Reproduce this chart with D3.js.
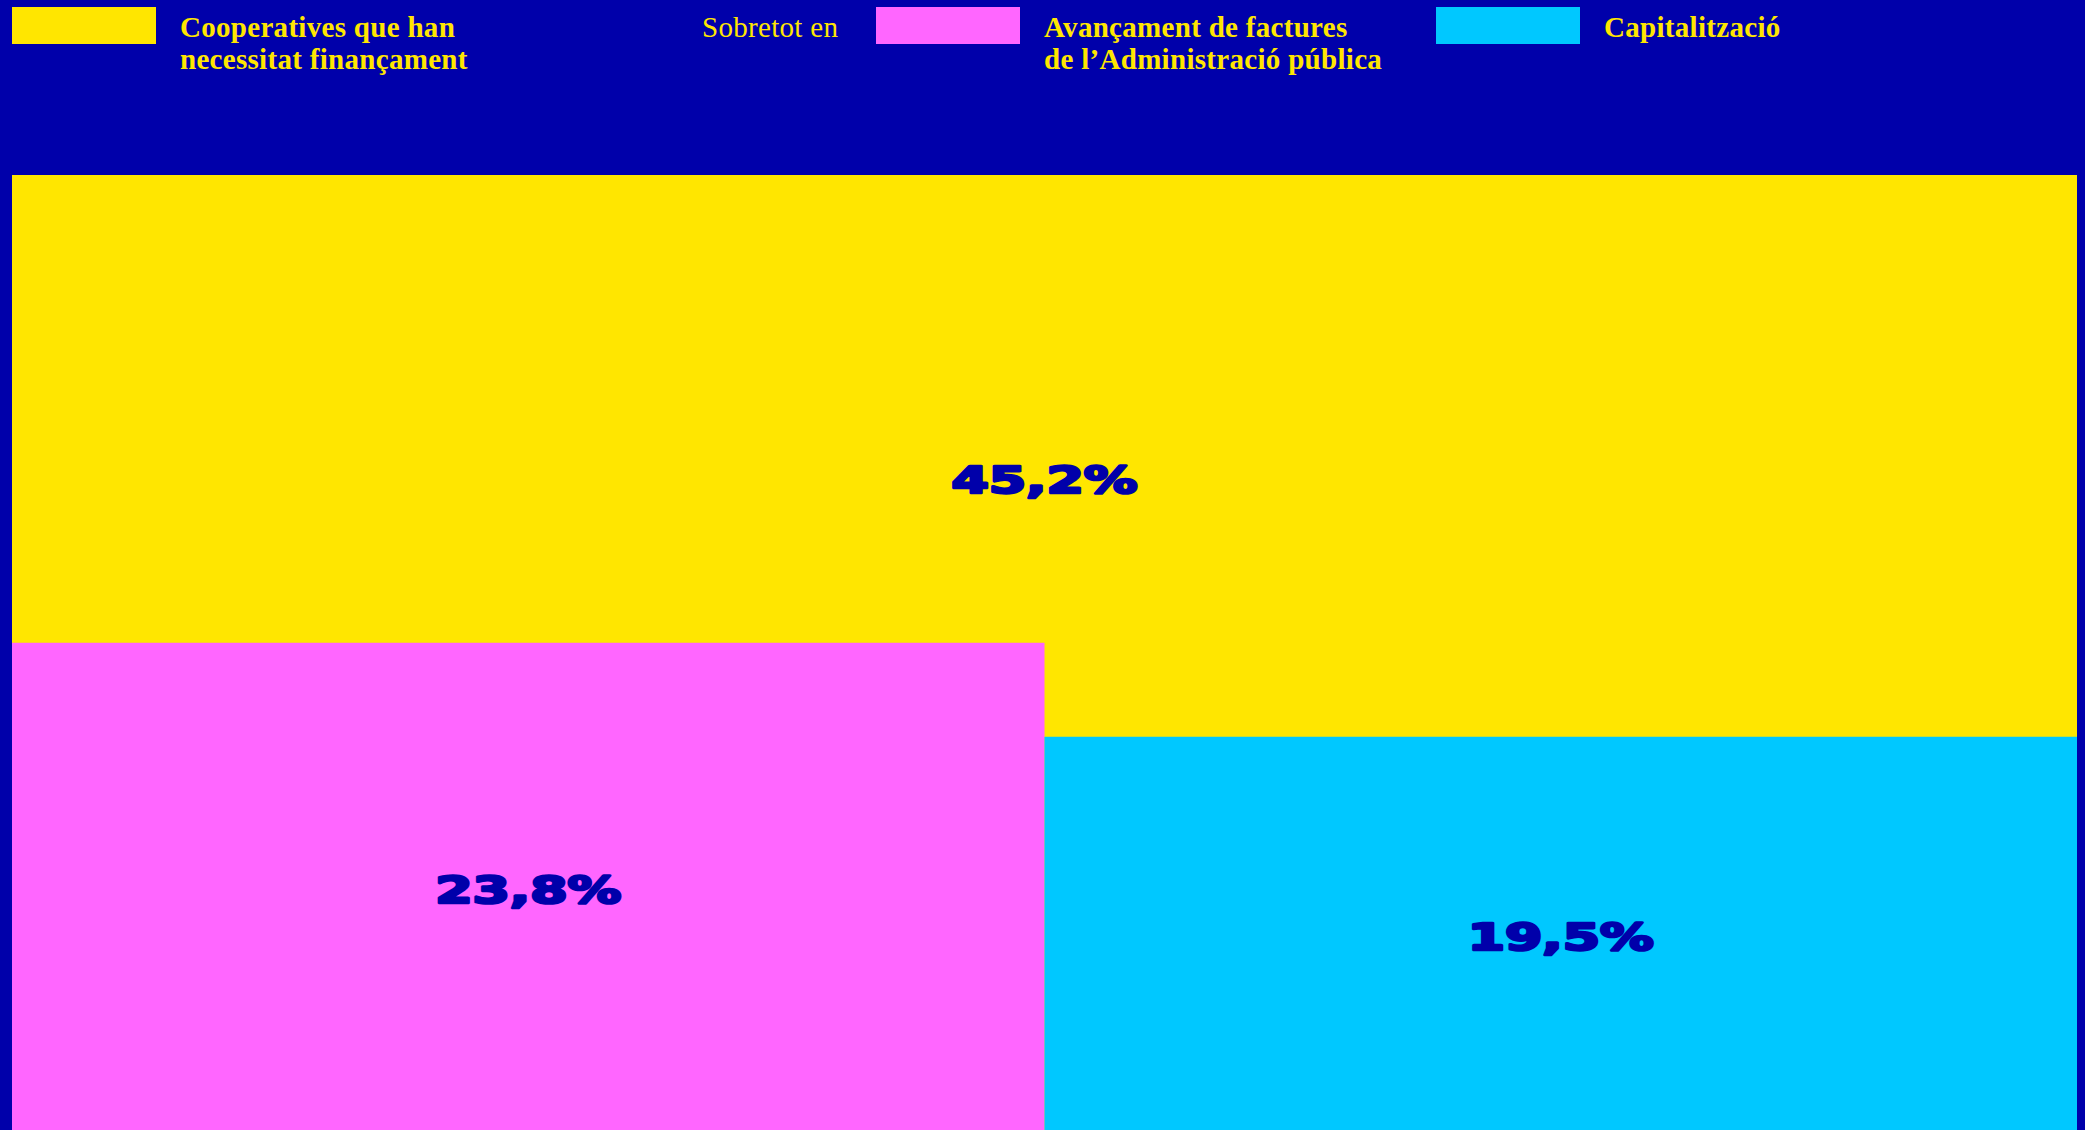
<!DOCTYPE html>
<html>
<head>
<meta charset="utf-8">
<script src="https://cdn.jsdelivr.net/npm/d3@7"></script>
<style>
  body { margin: 0; background: #0000aa; overflow: hidden; }
  .legend-text { font-family: "Liberation Serif", serif; font-size: 29px; letter-spacing: 0.3px; fill: #ffe600; }
  .value-label { font-family: "DejaVu Sans", sans-serif; font-weight: bold; font-size: 37px; fill: #0000aa; stroke: #0000aa; stroke-width: 2.6px; stroke-linejoin: round; }
</style>
</head>
<body>
<div id="chart"></div>
<script>
// data
const categories = ["Cooperatives que han necessitat finançament", "Avançament de factures de l’Administració pública", "Capitalització"];
const values = [45.2, 23.8, 19.5];
const legendLines = [
  ["Cooperatives que han", "necessitat finançament"],
  ["Avançament de factures", "de l’Administració pública"],
  ["Capitalització"]
];
const colors = ["#ffe600", "#ff66ff", "#00c8ff"];
const subCategories = categories.slice(1);

const width = 2085, height = 1130;
const margin = { top: 175, right: 8, left: 12 };

const svg = d3.select("#chart")
  .append("svg")
  .attr("width", width)
  .attr("height", height);

// full width for the total, split in two bands for the breakdown
const x = d3.scaleBand()
  .domain(subCategories)
  .range([margin.left, width - margin.right])
  .padding(0);

const y = d3.scaleLinear()
  .domain([0, d3.max(values)])
  .range([1163, margin.top]);

const fmt = v => d3.format(".1f")(v).replace(".", ",") + "%";

// total rect
svg.append("rect")
  .attr("x", margin.left)
  .attr("y", y(values[0]))
  .attr("width", width - margin.right - margin.left)
  .attr("height", height - y(values[0]))
  .attr("fill", colors[0]);

const sub = subCategories.map((c, i) => ({ cat: c, value: values[i + 1], color: colors[i + 1] }));

svg.selectAll("rect.sub")
  .data(sub)
  .enter()
  .append("rect")
  .attr("class", "sub")
  .attr("x", d => x(d.cat))
  .attr("y", d => y(d.value))
  .attr("width", x.bandwidth())
  .attr("height", d => height - y(d.value))
  .attr("fill", d => d.color);

// labels
const stretch = 1.45;
function addLabel(cx, cy, v) {
  svg.append("text")
    .attr("class", "value-label")
    .attr("text-anchor", "middle")
    .attr("dominant-baseline", "central")
    .attr("transform", `translate(${cx},${cy}) scale(${stretch},1)`)
    .text(fmt(v));
}
addLabel(margin.left + (width - margin.right - margin.left) / 2,
  y(values[0]) + (height - y(values[0])) * 0.32, values[0]);
sub.forEach(d => addLabel(x(d.cat) + x.bandwidth() / 2, (y(d.value) + height) / 2 + 4, d.value));

// Legend
const legendItems = [
  { lines: legendLines[0], color: colors[0], x: 12 },
  { lines: legendLines[1], color: colors[1], x: 876 },
  { lines: legendLines[2], color: colors[2], x: 1436 }
];

const legend = svg.append("g").attr("class", "legend");

legend.selectAll("g")
  .data(legendItems)
  .enter()
  .append("g")
  .attr("transform", d => `translate(${d.x}, 7)`)
  .each(function(d) {
    const g = d3.select(this);
    g.append("rect")
      .attr("width", 144)
      .attr("height", 37)
      .attr("fill", d.color);
    g.append("text")
      .attr("class", "legend-text")
      .attr("font-weight", "bold")
      .attr("x", 168)
      .attr("y", 30)
      .selectAll("tspan")
      .data(d.lines)
      .enter()
      .append("tspan")
      .attr("x", 168)
      .attr("dy", (l, i) => i ? 32 : 0)
      .text(l => l);
  });

legend.append("text")
  .attr("class", "legend-text")
  .attr("x", 702)
  .attr("y", 37)
  .text("Sobretot en");
</script>
</body>
</html>
